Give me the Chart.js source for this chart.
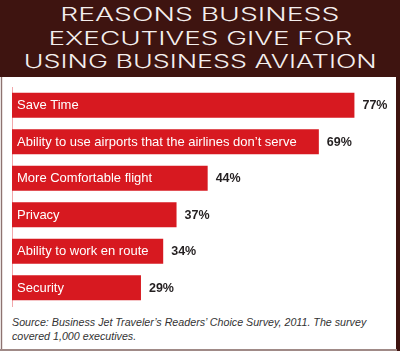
<!DOCTYPE html>
<html>
<head>
<meta charset="utf-8">
<script src="https://cdn.jsdelivr.net/npm/chart.js@4.4.0/dist/chart.umd.min.js"></script>
<style>
  html, body { margin: 0; padding: 0; background: #3e1410; }
  #wrap { position: relative; width: 400px; height: 351px; overflow: hidden; background: #3e1410; }
  #panel { position: absolute; left: 3px; top: 77px; width: 393px; height: 272px; background: #ffffff; }
  #lborder { position: absolute; left: 0; top: 77px; width: 3px; height: 274px; background: #e9e2e1; }
  #lline { position: absolute; left: 1px; top: 77px; width: 1px; height: 273px; background: #8d7370; }
  #bline { position: absolute; left: 0; top: 349px; width: 397px; height: 2px; background: #a08a87; }
  #title { position: absolute; left: 0; top: 3px; width: 400px; text-align: center; color: #f4efee;
           font-family: Inter, "DejaVu Sans", sans-serif; font-weight: 300; font-size: 18px; line-height: 23.5px; }
  #title div { white-space: nowrap; }
  #title span { display: inline-block; transform-origin: center; }
  #source { position: absolute; left: 12px; top: 315px; width: 385px; color: #333333; white-space: nowrap;
            font-family: "Liberation Sans", Arial, sans-serif; font-style: italic; font-size: 10.7px; line-height: 14px; }
  canvas { position: absolute; left: 0; top: 0; }
</style>
</head>
<body>
<div id="wrap">
  <div id="panel"></div>
  <div id="lborder"></div>
  <div id="lline"></div>
  <div id="bline"></div>
  <div id="title">
    <div><span data-w="279">REASONS BUSINESS</span></div>
    <div><span data-w="304">EXECUTIVES GIVE FOR</span></div>
    <div><span data-w="353">USING BUSINESS AVIATION</span></div>
  </div>
  <div id="source">Source: Business Jet Traveler’s Readers’ Choice Survey, 2011. The survey<br>covered 1,000 executives.</div>
  <canvas id="c" width="400" height="351"></canvas>
</div>
<script>
const categories = [
  "Save Time",
  "Ability to use airports that the airlines don’t serve",
  "More Comfortable flight",
  "Privacy",
  "Ability to work en route",
  "Security"
];
const values = [77, 69, 44, 37, 34, 29];
const valueLabels = ["77%", "69%", "44%", "37%", "34%", "29%"];

// fit title lines to reference widths
document.querySelectorAll('#title span').forEach(s => {
  const w = s.getBoundingClientRect().width;
  const target = parseFloat(s.dataset.w);
  s.style.transform = 'scaleX(' + (target / w) + ')';
});

const labelPlugin = {
  id: 'barLabels',
  afterDatasetsDraw(chart) {
    const ctx = chart.ctx;
    const meta = chart.getDatasetMeta(0);
    ctx.save();
    ctx.textBaseline = 'middle';
    meta.data.forEach((bar, i) => {
      const base = bar.base;
      ctx.fillStyle = '#ffffff';
      ctx.font = '13px "Liberation Sans", Arial, sans-serif';
      ctx.textAlign = 'left';
      ctx.fillText(categories[i], base + 5, bar.y + 0.5);
      ctx.fillStyle = '#231f20';
      ctx.font = 'bold 12.5px "Liberation Sans", Arial, sans-serif';
      ctx.fillText(valueLabels[i], bar.x + 8, bar.y + 0.5);
    });
    ctx.restore();
  }
};

new Chart(document.getElementById('c'), {
  type: 'bar',
  data: {
    labels: categories,
    datasets: [{
      data: values,
      backgroundColor: '#d71920',
      borderWidth: 0,
      categoryPercentage: 1,
      barPercentage: 0.69
    }]
  },
  options: {
    indexAxis: 'y',
    responsive: false,
    animation: false,
    layout: { padding: { left: 12, right: 10, top: 87, bottom: 45 } },
    plugins: { legend: { display: false }, tooltip: { enabled: false }, title: { display: false } },
    scales: {
      x: { display: false, min: 0, max: 85 },
      y: {
        display: true,
        ticks: { display: false },
        grid: { display: false, drawTicks: false },
        border: { display: true, color: '#f2a7aa', width: 1 }
      }
    }
  },
  plugins: [labelPlugin]
});
</script>
</body>
</html>
